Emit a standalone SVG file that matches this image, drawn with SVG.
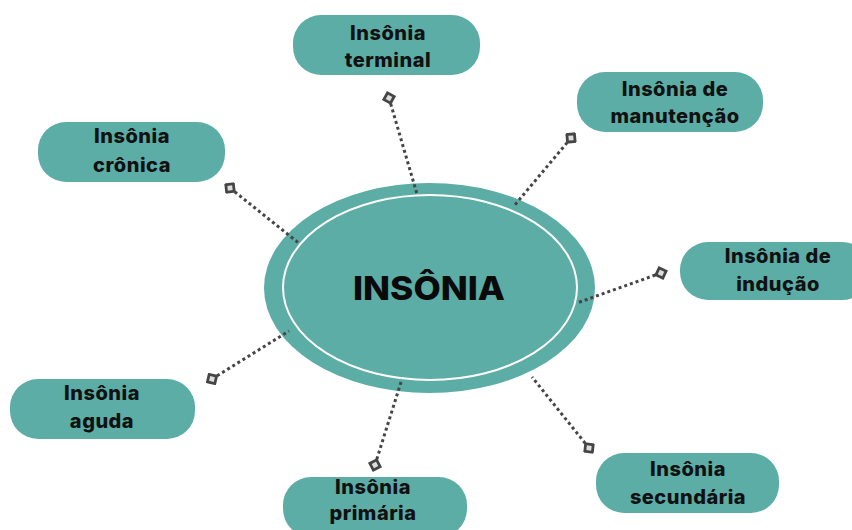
<svg xmlns="http://www.w3.org/2000/svg" width="852" height="530" viewBox="0 0 852 530">
<defs>
<style>
.node{fill:#5BADA6;}
.lbl{font-family:Inter,"Liberation Sans",sans-serif;font-weight:800;font-size:20px;letter-spacing:0.5px;fill:#111;text-anchor:middle;}
.title{font-family:Inter,"Liberation Sans",sans-serif;font-weight:800;font-size:33px;fill:#0a0a0a;text-anchor:middle;}
.conn{fill:none;stroke:#454545;stroke-width:3;stroke-dasharray:3 3;marker-start:url(#dia);}
</style>
<marker id="dia" viewBox="-7 -7 14 14" markerWidth="14" markerHeight="14" markerUnits="userSpaceOnUse" orient="auto" refX="0" refY="0">
<rect x="-3.8" y="-3.8" width="7.6" height="7.6" fill="#ddd" stroke="#454545" stroke-width="2.8" transform="rotate(45)"/>
</marker>
</defs>
<rect width="852" height="530" fill="#fff"/>
<g id="center">
<ellipse cx="429.5" cy="288" rx="165.5" ry="105" class="node"/>
<ellipse cx="430" cy="287.5" rx="147" ry="92.5" fill="none" stroke="#fff" stroke-width="2"/>
<text class="title" x="429" y="300" textLength="152" lengthAdjust="spacingAndGlyphs">INSÔNIA</text>
</g>
<g id="connectors">
<path class="conn" d="M389,98 L417,194"/>
<path class="conn" d="M571,138 L514,206"/>
<path class="conn" d="M661,273 L577,303"/>
<path class="conn" d="M589,448 L532,377"/>
<path class="conn" d="M375,465 L402,379"/>
<path class="conn" d="M212,379 L289,331"/>
<path class="conn" d="M230,188 L300,244"/>
</g>
<g id="n-terminal">
<rect x="293" y="15" width="187" height="60" rx="28" class="node"/>
<text class="lbl" x="388" y="40">Insônia</text>
<text class="lbl" x="388" y="67">terminal</text>
</g>
<g id="n-manutencao">
<rect x="577" y="72" width="186" height="60" rx="28" class="node"/>
<text class="lbl" x="675" y="96">Insônia de</text>
<text class="lbl" x="675" y="123">manutenção</text>
</g>
<g id="n-inducao">
<rect x="680" y="242" width="190" height="58" rx="28" class="node"/>
<text class="lbl" x="778" y="263">Insônia de</text>
<text class="lbl" x="778" y="291">indução</text>
</g>
<g id="n-secundaria">
<rect x="596" y="453" width="183" height="60" rx="28" class="node"/>
<text class="lbl" x="688" y="476">Insônia</text>
<text class="lbl" x="688" y="504">secundária</text>
</g>
<g id="n-primaria">
<rect x="283" y="477" width="184" height="60" rx="28" class="node"/>
<text class="lbl" x="373" y="494">Insônia</text>
<text class="lbl" x="373" y="520">primária</text>
</g>
<g id="n-aguda">
<rect x="10" y="379" width="185" height="60" rx="28" class="node"/>
<text class="lbl" x="102" y="400">Insônia</text>
<text class="lbl" x="102" y="428">aguda</text>
</g>
<g id="n-cronica">
<rect x="38" y="122" width="187" height="60" rx="28" class="node"/>
<text class="lbl" x="132" y="143">Insônia</text>
<text class="lbl" x="132" y="172">crônica</text>
</g>
</svg>
